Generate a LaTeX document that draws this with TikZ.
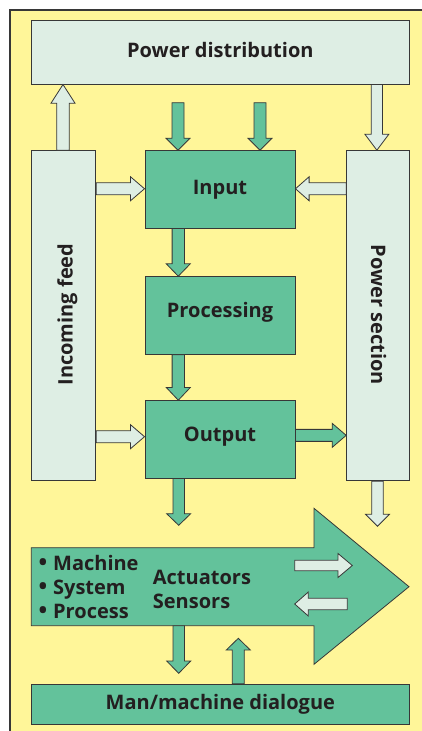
\documentclass[tikz,border=0pt]{standalone}
\usepackage{fontspec}
\setmainfont{Open Sans}
\usetikzlibrary{calc}
\definecolor{yel}{RGB}{255,246,153}
\definecolor{grn}{RGB}{99,194,155}
\definecolor{pal}{RGB}{222,238,228}
\definecolor{edge}{RGB}{55,55,55}
\definecolor{ink}{RGB}{35,31,32}
% #1 style, #2 head length, #3 shaft half width, #4 start, #5 end
\newcommand\barrow[5]{%
  \path #4 coordinate (ba-a) #5 coordinate (ba-b);
  \path ($(ba-b)!#2!(ba-a)$) coordinate (ba-h);
  \path[#1] ($(ba-a)!#3!90:(ba-b)$) -- ($(ba-h)!#3!-90:(ba-a)$) -- ($(ba-h)!12pt!-90:(ba-a)$)
     -- (ba-b) -- ($(ba-h)!12pt!90:(ba-a)$) -- ($(ba-h)!#3!90:(ba-a)$) -- ($(ba-a)!#3!-90:(ba-b)$) -- cycle;
}
\begin{document}
\begin{tikzpicture}[x=1pt,y=-1pt,
  txt/.style={text=ink, inner sep=0pt, font=\bfseries\fontsize{20}{24}\selectfont},
  box/.style={txt, draw=edge, line width=1pt, text height=14.5pt, text depth=0pt},
  gbox/.style={box, fill=grn},
  pbox/.style={box, fill=pal},
  garrow/.style={fill=grn, draw=edge, line width=0.8pt, line join=miter},
  parrow/.style={fill=pal, draw=edge, line width=0.8pt, line join=miter}]
\useasboundingbox (0,0) rectangle (422,731);
% frame
\fill[yel] (10,9.7) rectangle (423,732);
\draw[edge, line width=2pt] (10,732) -- (10,9.7) -- (423,9.7);
% boxes
\node[pbox, minimum width=377.3pt, minimum height=63.3pt] (pd) at (220.35,52.35) {\raisebox{1.8pt}{Power distribution}};
\node[pbox, minimum width=64pt, minimum height=329.3pt] (feed) at (63.7,315.35) {};
\node[txt, rotate=90] (feedtxt) at (67.5,314.5) {Incoming feed};
\node[pbox, minimum width=62.3pt, minimum height=330pt] (ps) at (377.85,315.7) {};
\node[txt, rotate=-90] (pstxt) at (378.7,314.7) {Power section};
\node[gbox, minimum width=150pt, minimum height=77.3pt] (inp) at (220,189.35) {\raisebox{2.3pt}{Input}};
\node[gbox, minimum width=150pt, minimum height=77.6pt] (proc) at (220,315.5) {\raisebox{5pt}{Processing}};
\node[gbox, minimum width=150pt, minimum height=77.3pt] (out) at (220,439.35) {\raisebox{5pt}{Output}};
\node[gbox, minimum width=377.3pt, minimum height=39.7pt] (mmd) at (220.35,704.15) {\raisebox{2pt}{Man/machine dialogue}};
% big arrow
\coordinate (bigNW) at (31.3,547.7);
\coordinate (bigSW) at (31.3,625.7);
\coordinate (bigtip) at (409,586.7);
\draw[fill=grn, draw=edge, line width=0.8pt] (bigNW) -- (314,547.7) -- (314,508.3) -- (bigtip)
   -- (314,664.3) -- (314,625.7) -- (bigSW) -- cycle;
\node[txt, anchor=base west] (b1) at (38.3,570.7) {{\fontsize{23}{24}\selectfont•}\hspace{6pt}Machine};
\node[txt, anchor=base west] (b2) at (38.3,594.3) {{\fontsize{23}{24}\selectfont•}\hspace{6pt}System};
\node[txt, anchor=base west] (b3) at (38.3,618.3) {{\fontsize{23}{24}\selectfont•}\hspace{6pt}Process};
\node[txt, anchor=base west] (act) at (152.7,584.3) {Actuators};
\node[txt, anchor=base west] (sen) at (152.7,608.3) {Sensors};
% free ends
\coordinate (in1) at (178,102.7);
\coordinate (in2) at (260,102.7);
\coordinate (outend) at (178.7,525.3);
\coordinate (psend) at (377.5,526.3);
\coordinate (bigbot) at (178.7,625.7);
\coordinate (mmdend) at (178.7,673.3);
\coordinate (bigup) at (238.3,638.3);
\coordinate (r1) at (294.7,565.5);
\coordinate (r2) at (352.3,565.5);
\coordinate (l1) at (347.3,604);
\coordinate (l2) at (294.7,604);
% arrows
\barrow{parrow}{18.7pt}{6.3pt}{([xshift=-0.7pt]feed.north)}{([xshift=-0.7pt]feed.north |- pd.south)}
\barrow{parrow}{16pt}{5.7pt}{([xshift=-1pt]ps.north |- pd.south)}{([xshift=-1pt]ps.north)}
\barrow{garrow}{12pt}{6pt}{(in1)}{(in1 |- inp.north)}
\barrow{garrow}{12pt}{6pt}{(in2)}{(in2 |- inp.north)}
\barrow{parrow}{14pt}{6pt}{($(inp.west -| feed.east)+(0,-0.6)$)}{($(inp.west)+(0,-0.6)$)}
\barrow{parrow}{13.6pt}{6pt}{($(inp.east -| ps.west)+(0,-0.6)$)}{($(inp.east)+(0,-0.6)$)}
\barrow{garrow}{12.4pt}{6.2pt}{([xshift=33.8pt]inp.south west)}{([xshift=33.8pt]proc.north west)}
\barrow{garrow}{12.7pt}{6.2pt}{([xshift=33.8pt]proc.south west)}{([xshift=33.8pt]out.north west)}
\barrow{parrow}{14pt}{6pt}{($(out.west -| feed.east)+(0,-2.65)$)}{($(out.west)+(0,-2.65)$)}
\barrow{garrow}{14pt}{6pt}{($(out.east)+(0,-4)$)}{($(out.east -| ps.west)+(0,-4)$)}
\barrow{garrow}{11.6pt}{5.7pt}{(out.south -| outend)}{(outend)}
\barrow{parrow}{12pt}{5.8pt}{(ps.south -| psend)}{(psend)}
\barrow{parrow}{14.3pt}{5.3pt}{(r1)}{(r2)}
\barrow{parrow}{13.6pt}{5.8pt}{(l1)}{(l2)}
\barrow{garrow}{12.3pt}{5.7pt}{(bigbot)}{(mmdend)}
\barrow{garrow}{11.7pt}{6pt}{(mmd.north -| bigup)}{(bigup)}
\end{tikzpicture}
\end{document}
